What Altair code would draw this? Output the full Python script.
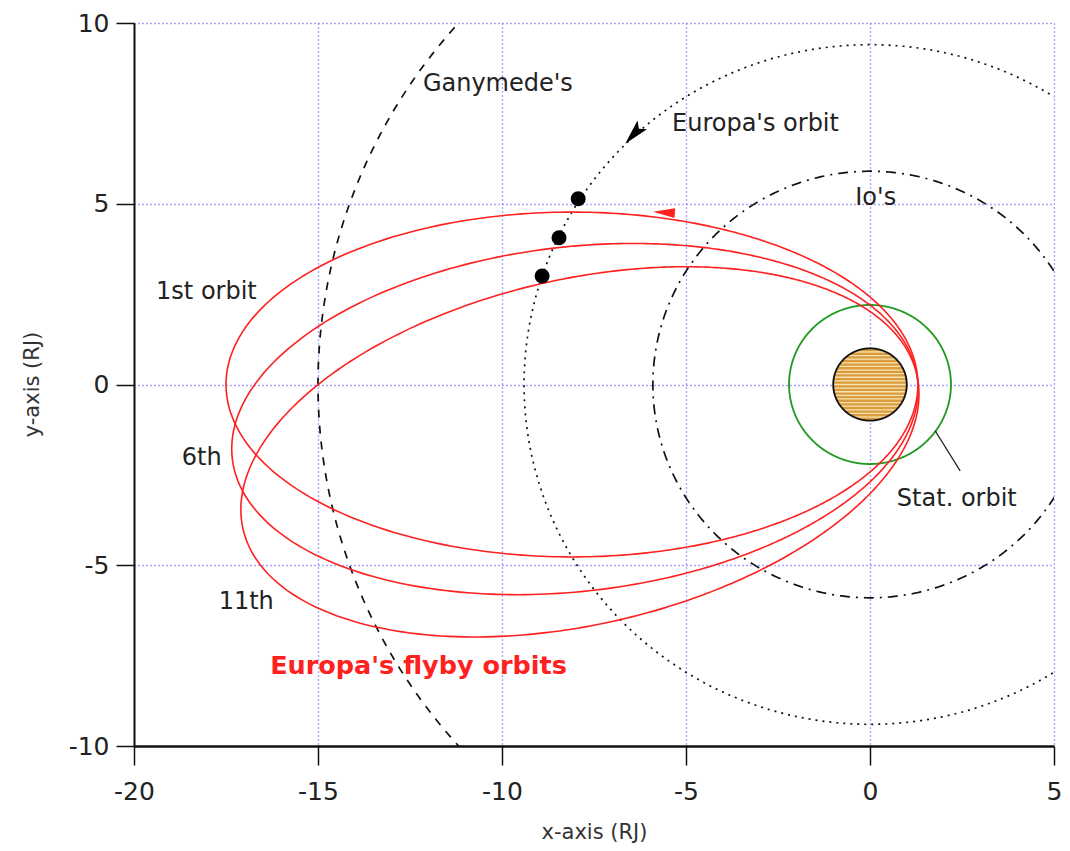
import numpy as np
import pandas as pd
import altair as alt

# ---- values (units: Jupiter radii, RJ) ----
moon_names = ["Io's", "Europa's", "Ganymede's"]
moon_radii = [5.9, 9.4, 15.0]

stat_orbit_radius = 2.2
jupiter_radius = 1.0

flyby_names = ["1st", "6th", "11th"]
flyby_apojove = [17.5, 17.45, 17.5]
flyby_perijove = [1.3, 1.3, 1.3]
flyby_rotation_deg = [0.0, 6.8, 13.3]

europa_dot_x = [-7.93, -8.45, -8.91]
europa_dot_y = [5.14, 4.06, 3.0]

europa_arrow_x = [-6.42]
europa_arrow_y = [6.92]
flyby_arrow_x = [-5.6]
flyby_arrow_y = [4.76]

label_text = ["Ganymede's", "Europa's orbit", "Io's", "1st orbit", "6th", "11th", "Stat. orbit"]
label_x = [-12.15, -5.38, -0.4, -19.4, -18.7, -17.7, 0.73]
label_y = [8.3, 7.2, 5.17, 2.56, -2.03, -6.03, -3.17]

title_text = ["Europa's flyby orbits"]
title_x = [-16.3]
title_y = [-7.8]

leader_x = [1.77]
leader_y = [-1.28]
leader_x2 = [2.45]
leader_y2 = [-2.39]

x_ticks = [-20, -15, -10, -5, 0, 5]
y_ticks = [-10, -5, 0, 5, 10]

# ---- build tables ----
t = np.linspace(0, 2 * np.pi, 721)


def circle(r, name):
    return pd.DataFrame({"name": name, "i": np.arange(len(t)),
                         "x": r * np.cos(t), "y": r * np.sin(t)})


moons = pd.concat([circle(r, n) for r, n in zip(moon_radii, moon_names)])
stat = circle(stat_orbit_radius, "stat")
jup_outline = circle(jupiter_radius, "jupiter")

jx = np.linspace(-jupiter_radius, jupiter_radius, 201)
jdisk = pd.DataFrame({"x": jx, "y": -np.sqrt(np.clip(jupiter_radius**2 - jx**2, 0, None)),
                      "y2": np.sqrt(np.clip(jupiter_radius**2 - jx**2, 0, None))})
sy = np.arange(-0.9, 0.91, 0.1) * jupiter_radius
stripes = pd.DataFrame({"y": sy, "x": -np.sqrt(jupiter_radius**2 - sy**2) * 0.97,
                        "x2": np.sqrt(jupiter_radius**2 - sy**2) * 0.97})

fly_rows = []
for name, apo, peri, rot in zip(flyby_names, flyby_apojove, flyby_perijove, flyby_rotation_deg):
    a = (apo + peri) / 2
    e = (apo - peri) / (apo + peri)
    p = a * (1 - e**2)
    r = p / (1 + e * np.cos(t))
    ang = np.radians(rot) + t
    fly_rows.append(pd.DataFrame({"name": name, "i": np.arange(len(t)),
                                  "x": r * np.cos(ang), "y": r * np.sin(ang)}))
flyby = pd.concat(fly_rows)

dots = pd.DataFrame({"x": europa_dot_x, "y": europa_dot_y})
earrow = pd.DataFrame({"x": europa_arrow_x, "y": europa_arrow_y})
farrow = pd.DataFrame({"x": flyby_arrow_x, "y": flyby_arrow_y})
labels = pd.DataFrame({"x": label_x, "y": label_y, "text": label_text})
title_df = pd.DataFrame({"x": title_x, "y": title_y, "text": title_text})
leader = pd.DataFrame({"x": leader_x, "y": leader_y, "x2": leader_x2, "y2": leader_y2})

FONT = "DejaVu Sans"
xs = alt.Scale(domain=[-20, 5], nice=False, zero=False)
ys = alt.Scale(domain=[-10, 10], nice=False, zero=False)
x_axis = alt.Axis(values=x_ticks, title="x-axis (RJ)", grid=True, gridColor="#5050ff",
                  gridDash=[1, 3], gridWidth=1.3, domainColor="#111", domainWidth=2.5,
                  tickColor="#111", tickSize=19, tickWidth=1.5, labelFont=FONT,
                  labelFontSize=25, labelColor="#222", labelPadding=14, labelFlush=False,
                  labelExpr="datum.value + ''", titleFont=FONT,
                  titleFontSize=21, titleFontWeight="normal", titleColor="#333",
                  titleX=460, titleY=86, titleBaseline="middle", titleAlign="center")
y_axis = alt.Axis(values=y_ticks, title="y-axis (RJ)", grid=True, gridColor="#5050ff",
                  gridDash=[1, 3], gridWidth=1.3, domainColor="#111", domainWidth=2,
                  tickColor="#111", tickSize=18, tickWidth=1.5, labelFont=FONT,
                  labelFontSize=25, labelColor="#222", labelPadding=7, labelFlush=False,
                  labelExpr="datum.value + ''", titleFont=FONT,
                  titleFontSize=21, titleFontWeight="normal", titleColor="#333",
                  titleX=-102, titleY=361, titleBaseline="middle", titleAlign="center",
                  titleAngle=270)


def X(field="x"):
    return alt.X(f"{field}:Q", scale=xs, axis=x_axis)


def Y(field="y"):
    return alt.Y(f"{field}:Q", scale=ys, axis=y_axis)


moon_layer = alt.Chart(moons).mark_line(clip=True, color="#111", strokeWidth=1.7).encode(
    x=X(), y=Y(), order="i:Q", detail="name:N",
    strokeDash=alt.StrokeDash("name:N", scale=alt.Scale(
        domain=moon_names, range=[[10, 6, 2, 6], [2, 5], [8, 8]]), legend=None))

stat_layer = alt.Chart(stat).mark_line(clip=True, color="#1e9a1e", strokeWidth=1.8).encode(
    x=X(), y=Y(), order="i:Q")

disk_layer = alt.Chart(jdisk).mark_area(orient="vertical", color="#d99b3c", clip=True).encode(
    x=X(), y=Y(), y2="y2:Q")

stripe_layer = alt.Chart(stripes).mark_rule(color="#f7e3b2", strokeWidth=1.3).encode(
    x=X(), x2="x2:Q", y=Y())

outline_layer = alt.Chart(jup_outline).mark_line(color="#111", strokeWidth=1.8).encode(
    x=X(), y=Y(), order="i:Q")

flyby_layer = alt.Chart(flyby).mark_line(clip=True, color="#ff2020", strokeWidth=1.6).encode(
    x=X(), y=Y(), order="i:Q", detail="name:N")

dot_layer = alt.Chart(dots).mark_point(shape="circle", filled=True, color="black",
                                       size=225, opacity=1).encode(x=X(), y=Y())

earrow_layer = alt.Chart(earrow).mark_point(shape="M0,-1L0.5,1L0,0.6L-0.5,1Z", filled=True,
                                            color="black", size=650, angle=222,
                                            opacity=1).encode(x=X(), y=Y())

farrow_layer = alt.Chart(farrow).mark_point(shape="M0,-1L0.45,1L-0.45,1Z", filled=True,
                                            color="#ff2020", size=480, angle=274,
                                            opacity=1).encode(x=X(), y=Y())

leader_layer = alt.Chart(leader).mark_rule(color="#222", strokeWidth=1.3).encode(
    x=X(), y=Y(), x2="x2:Q", y2="y2:Q")

label_layer = alt.Chart(labels).mark_text(align="left", baseline="middle", font=FONT,
                                          fontSize=24, color="#222").encode(
    x=X(), y=Y(), text="text:N")

title_layer = alt.Chart(title_df).mark_text(align="left", baseline="middle", font=FONT,
                                            fontSize=25.5, fontWeight="bold",
                                            color="#ff2020").encode(
    x=X(), y=Y(), text="text:N")

chart = alt.layer(
    moon_layer, stat_layer, disk_layer, stripe_layer, outline_layer, flyby_layer,
    dot_layer, earrow_layer, farrow_layer, leader_layer, label_layer, title_layer
).properties(
    width=920, height=723,
    autosize=alt.AutoSizeParams(type="none"),
    padding={"left": 126, "top": 15, "right": 8, "bottom": 100},
).configure_view(stroke=None)

chart.save("out.html", embed_options={"renderer": "svg", "actions": False})
